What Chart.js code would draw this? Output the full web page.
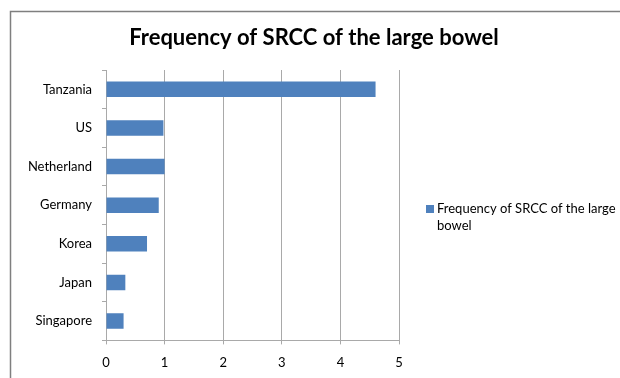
<!DOCTYPE html>
<html>
<head>
<meta charset="utf-8">
<script src="https://cdn.jsdelivr.net/npm/chart.js@4.4.1/dist/chart.umd.min.js"></script>
<style>
  html, body { margin: 0; padding: 0; background: #fff; }
  #wrap { width: 620px; height: 378px; position: relative; }
</style>
</head>
<body>
<div id="wrap"><canvas id="c" width="620" height="378"></canvas></div>
<script>
const countries = ['Tanzania', 'US', 'Netherland', 'Germany', 'Korea', 'Japan', 'Singapore'];
const frequency = [4.6, 0.98, 1.0, 0.9, 0.7, 0.33, 0.3];
const seriesName = 'Frequency of SRCC of the large bowel';
const xTicks = [0, 1, 2, 3, 4, 5];

const FONT = 'Lato, "Open Sans", sans-serif';
const BAR = '#4f81bd';
const GRID = '#a9a9a9';

// outer frame, centred title and a wrapped legend beside the plot
const frameTitleLegend = {
  id: 'frameTitleLegend',
  beforeDraw(chart) {
    const ctx = chart.ctx;
    ctx.save();
    ctx.fillStyle = '#fff';
    ctx.fillRect(0, 0, chart.width, chart.height);
    ctx.strokeStyle = '#7f7f7f';
    ctx.lineWidth = 1.5;
    ctx.strokeRect(10.5, 11.5, 700, 500);
    ctx.restore();
  },
  afterDraw(chart) {
    const ctx = chart.ctx;
    const ds = chart.data.datasets[0];
    ctx.save();
    ctx.fillStyle = '#000';
    ctx.font = 'bold 22px ' + FONT;
    ctx.textAlign = 'center';
    ctx.textBaseline = 'alphabetic';
    ctx.fillText(seriesName, 314, 45);

    ctx.fillStyle = ds.backgroundColor;
    ctx.fillRect(426, 205, 8, 8);
    ctx.fillStyle = '#000';
    ctx.font = '13px ' + FONT;
    ctx.textBaseline = 'middle';
    ctx.textAlign = 'left';
    ctx.fillText('Frequency of SRCC of the large', 437, 209);
    ctx.fillText('bowel', 437, 226);
    ctx.restore();
  }
};

new Chart(document.getElementById('c'), {
  type: 'bar',
  data: {
    labels: countries,
    datasets: [{
      label: seriesName,
      data: frequency,
      backgroundColor: BAR,
      borderWidth: 0,
      barPercentage: 0.4,
      categoryPercentage: 1.0
    }]
  },
  options: {
    indexAxis: 'y',
    responsive: false,
    animation: false,
    devicePixelRatio: 1,
    layout: { padding: { top: 70, right: 221, bottom: -4, left: 0 } },
    plugins: {
      legend: { display: false },
      tooltip: { enabled: false },
      title: { display: false }
    },
    scales: {
      x: {
        min: 0,
        max: 5,
        afterBuildTicks(scale) { scale.ticks = xTicks.map(v => ({ value: v })); },
        grid: { color: GRID, lineWidth: 1, tickLength: 4, drawTicks: true },
        border: { color: GRID, width: 1 },
        ticks: { color: '#000', font: { family: FONT, size: 13 }, padding: 11 }
      },
      y: {
        afterFit(scale) { scale.width = 106; },
        grid: { drawOnChartArea: false, color: GRID, tickLength: 4 },
        border: { color: GRID, width: 1 },
        ticks: { color: '#000', font: { family: FONT, size: 13 }, padding: 10 }
      }
    }
  },
  plugins: [frameTitleLegend]
});
</script>
</body>
</html>
